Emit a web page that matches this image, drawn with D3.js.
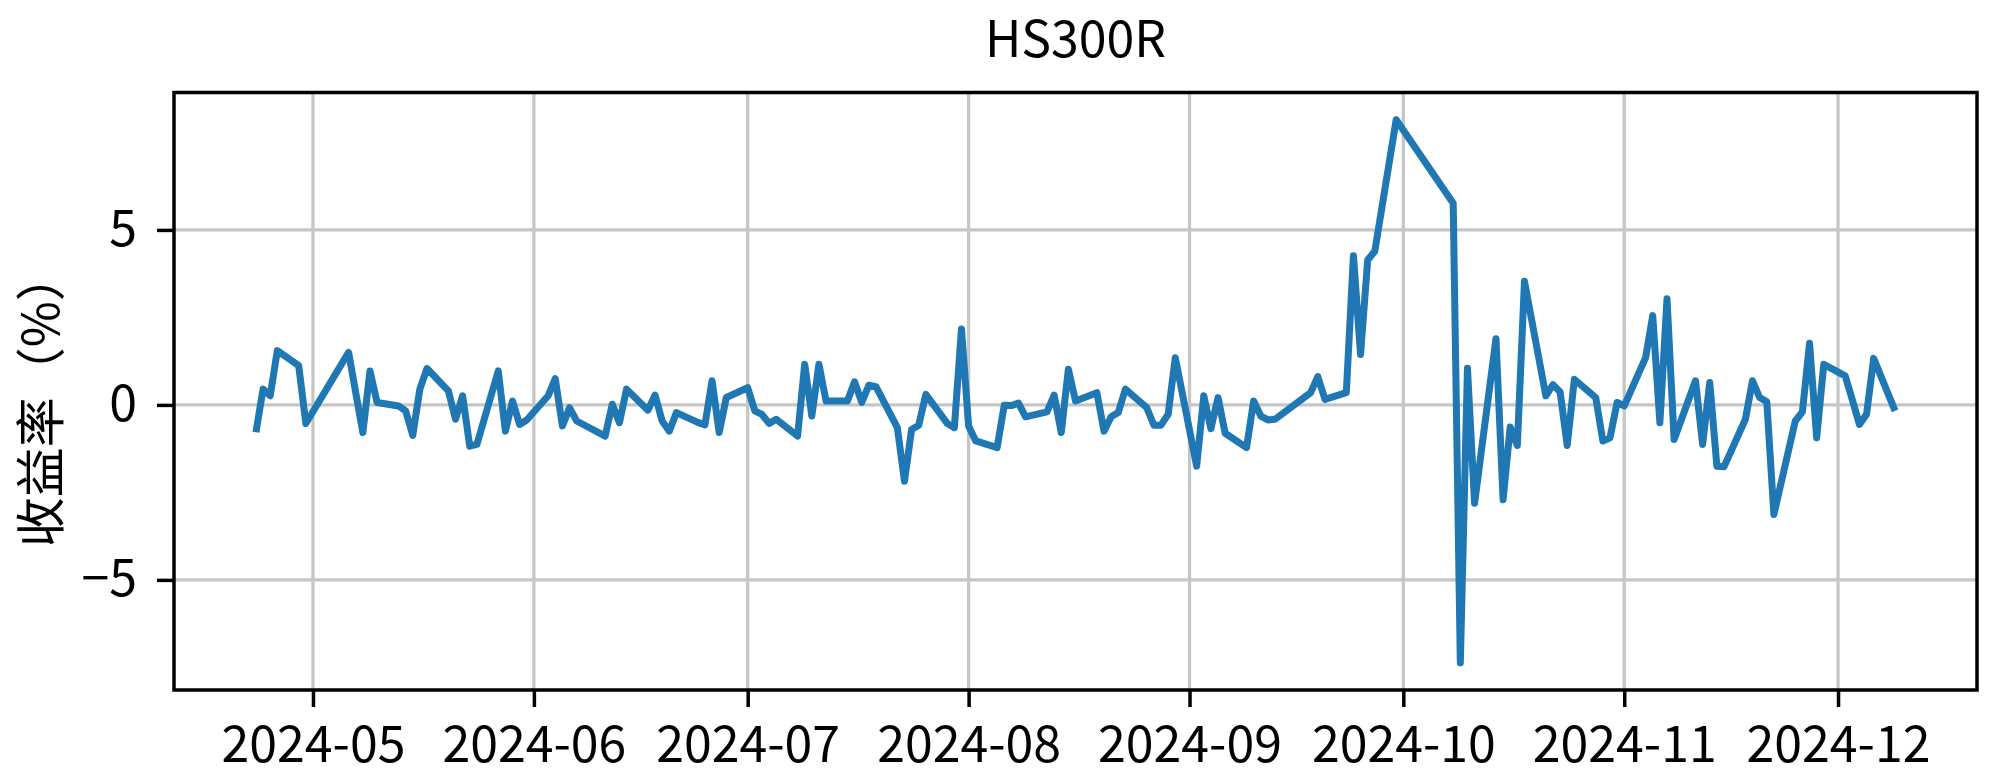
<!DOCTYPE html>
<html>
<head>
<meta charset="utf-8">
<script src="https://cdn.jsdelivr.net/npm/d3@7"></script>
<style>
  html, body { margin: 0; padding: 0; background: #ffffff; }
  svg { display: block; }
  text { font-family: "Noto Sans CJK SC", "DejaVu Sans", sans-serif; fill: #000; }
</style>
</head>
<body>
<svg id="chart" width="2000" height="775"></svg>
<script>
// ---- data ----
const title = "HS300R";
const yLabel = "收益率（%）";
const dates = [
  "2024-04-23","2024-04-24","2024-04-25","2024-04-26","2024-04-29","2024-04-30",
  "2024-05-06","2024-05-07","2024-05-08","2024-05-09","2024-05-10",
  "2024-05-13","2024-05-14","2024-05-15","2024-05-16","2024-05-17",
  "2024-05-20","2024-05-21","2024-05-22","2024-05-23","2024-05-24",
  "2024-05-27","2024-05-28","2024-05-29","2024-05-30","2024-05-31",
  "2024-06-03","2024-06-04","2024-06-05","2024-06-06","2024-06-07",
  "2024-06-11","2024-06-12","2024-06-13","2024-06-14",
  "2024-06-17","2024-06-18","2024-06-19","2024-06-20","2024-06-21",
  "2024-06-24","2024-06-25","2024-06-26","2024-06-27","2024-06-28",
  "2024-07-01","2024-07-02","2024-07-03","2024-07-04","2024-07-05",
  "2024-07-08","2024-07-09","2024-07-10","2024-07-11","2024-07-12",
  "2024-07-15","2024-07-16","2024-07-17","2024-07-18","2024-07-19",
  "2024-07-22","2024-07-23","2024-07-24","2024-07-25","2024-07-26",
  "2024-07-29","2024-07-30","2024-07-31","2024-08-01","2024-08-02",
  "2024-08-05","2024-08-06","2024-08-07","2024-08-08","2024-08-09",
  "2024-08-12","2024-08-13","2024-08-14","2024-08-15","2024-08-16",
  "2024-08-19","2024-08-20","2024-08-21","2024-08-22","2024-08-23",
  "2024-08-26","2024-08-27","2024-08-28","2024-08-29","2024-08-30",
  "2024-09-02","2024-09-03","2024-09-04","2024-09-05","2024-09-06",
  "2024-09-09","2024-09-10","2024-09-11","2024-09-12","2024-09-13",
  "2024-09-18","2024-09-19","2024-09-20",
  "2024-09-23","2024-09-24","2024-09-25","2024-09-26","2024-09-27",
  "2024-09-30",
  "2024-10-08","2024-10-09","2024-10-10","2024-10-11",
  "2024-10-14","2024-10-15","2024-10-16","2024-10-17","2024-10-18",
  "2024-10-21","2024-10-22","2024-10-23","2024-10-24","2024-10-25",
  "2024-10-28","2024-10-29","2024-10-30","2024-10-31","2024-11-01",
  "2024-11-04","2024-11-05","2024-11-06","2024-11-07","2024-11-08",
  "2024-11-11","2024-11-12","2024-11-13","2024-11-14","2024-11-15",
  "2024-11-18","2024-11-19","2024-11-20","2024-11-21","2024-11-22",
  "2024-11-25","2024-11-26","2024-11-27","2024-11-28","2024-11-29",
  "2024-12-02","2024-12-03","2024-12-04","2024-12-05","2024-12-06",
  "2024-12-09"
];
const returns = [
  -0.78, 0.45, 0.26, 1.55, 1.12, -0.53,
  1.50, 0.35, -0.79, 0.97, 0.07,
  -0.03, -0.17, -0.87, 0.45, 1.04,
  0.40, -0.41, 0.26, -1.18, -1.13,
  0.97, -0.75, 0.11, -0.56, -0.43,
  0.26, 0.75, -0.60, -0.08, -0.46,
  -0.89, 0.02, -0.51, 0.45,
  -0.15, 0.28, -0.46, -0.75, -0.22,
  -0.50, -0.57, 0.69, -0.79, 0.21,
  0.49, -0.17, -0.27, -0.53, -0.41,
  -0.89, 1.16, -0.32, 1.16, 0.11,
  0.11, 0.66, 0.07, 0.56, 0.52,
  -0.65, -2.18, -0.70, -0.58, 0.30,
  -0.53, -0.65, 2.17, -0.60, -1.03,
  -1.22, -0.01, -0.02, 0.05, -0.34,
  -0.20, 0.28, -0.79, 1.02, 0.11,
  0.35, -0.75, -0.34, -0.22, 0.45,
  -0.08, -0.58, -0.58, -0.27, 1.35,
  -1.75, 0.26, -0.68, 0.21, -0.81,
  -1.22, 0.11, -0.32, -0.43, -0.41,
  0.35, 0.81, 0.16,
  0.35, 4.26, 1.44, 4.14, 4.39,
  8.15,
  5.76, -7.37, 1.05, -2.81,
  1.89, -2.71, -0.63, -1.16, 3.53,
  0.26, 0.58, 0.37, -1.16, 0.73,
  0.21, -1.03, -0.94, 0.07, -0.03,
  1.35, 2.55, -0.51, 3.03, -0.99,
  0.69, -1.13, 0.64, -1.75, -1.77,
  -0.41, 0.69, 0.21, 0.09, -3.13,
  -0.46, -0.20, 1.76, -0.94, 1.16,
  0.83, 0.15, -0.56, -0.27, 1.33,
  -0.17
];
const yTicks = [-5, 0, 5];
const xTickLabels = ["2024-05","2024-06","2024-07","2024-08","2024-09","2024-10","2024-11","2024-12"];

// ---- layout ----
const W = 2000, H = 775;
const plot = { left: 174, right: 1977, top: 92.5, bottom: 690 };

const parse = d3.utcParse("%Y-%m-%d");
const data = dates.map((d, i) => ({ date: parse(d), value: returns[i] }));

const svg = d3.select("#chart");
svg.append("rect").attr("width", W).attr("height", H).attr("fill", "#fff");

// scales with matplotlib-like 5% margins
const xExt = d3.extent(data, d => d.date);
const xPad = (xExt[1] - xExt[0]) * 0.05;
const x = d3.scaleUtc()
  .domain([new Date(+xExt[0] - xPad), new Date(+xExt[1] + xPad)])
  .range([plot.left, plot.right]);

const yExt = d3.extent(data, d => d.value);
const yPad = (yExt[1] - yExt[0]) * 0.05;
const y = d3.scaleLinear()
  .domain([yExt[0] - yPad, yExt[1] + yPad])
  .range([plot.bottom, plot.top]);

const xTicks = xTickLabels.map(s => d3.utcParse("%Y-%m")(s));

// grid
const grid = svg.append("g");
grid.selectAll(".gx").data(xTicks).enter().append("line")
  .attr("x1", d => x(d)).attr("x2", d => x(d))
  .attr("y1", plot.top).attr("y2", plot.bottom)
  .attr("stroke", "#c6c6c6").attr("stroke-width", 3.3);
grid.selectAll(".gy").data(yTicks).enter().append("line")
  .attr("x1", plot.left).attr("x2", plot.right)
  .attr("y1", d => y(d)).attr("y2", d => y(d))
  .attr("stroke", "#c6c6c6").attr("stroke-width", 3.3);

// line
const clipId = "clip";
svg.append("clipPath").attr("id", clipId).append("rect")
  .attr("x", plot.left).attr("y", plot.top)
  .attr("width", plot.right - plot.left).attr("height", plot.bottom - plot.top);

svg.append("path")
  .datum(data)
  .attr("clip-path", `url(#${clipId})`)
  .attr("fill", "none")
  .attr("stroke", "#1f77b4")
  .attr("stroke-width", 7)
  .attr("stroke-linejoin", "round")
  .attr("stroke-linecap", "butt")
  .attr("d", d3.line().x(d => x(d.date)).y(d => y(d.value)));

// axes
const xAxis = d3.axisBottom(x)
  .tickValues(xTicks)
  .tickFormat((d, i) => xTickLabels[i])
  .tickSize(17).tickPadding(19);
const gx = svg.append("g").attr("transform", `translate(0,${plot.bottom})`).call(xAxis);
gx.select(".domain").remove();
gx.selectAll(".tick line").attr("stroke", "#000").attr("stroke-width", 3.5);
gx.selectAll(".tick text")
  .attr("font-size", 50)
  .attr("font-family", "'Noto Sans CJK SC', sans-serif")
  .attr("fill", "#000");

const yAxis = d3.axisLeft(y)
  .tickValues(yTicks)
  .tickFormat(d => d < 0 ? "\u2212" + Math.abs(d) : String(d))
  .tickSize(17).tickPadding(20);
const gy = svg.append("g").attr("transform", `translate(${plot.left},0)`).call(yAxis);
gy.select(".domain").remove();
gy.selectAll(".tick line").attr("stroke", "#000").attr("stroke-width", 3.5);
gy.selectAll(".tick text")
  .attr("font-size", 50)
  .attr("font-family", "'Noto Sans CJK SC', sans-serif")
  .attr("fill", "#000");

// frame
svg.append("rect")
  .attr("x", plot.left).attr("y", plot.top)
  .attr("width", plot.right - plot.left).attr("height", plot.bottom - plot.top)
  .attr("fill", "none").attr("stroke", "#000").attr("stroke-width", 3.5);

// title
svg.append("text")
  .attr("x", (plot.left + plot.right) / 2).attr("y", 57)
  .attr("text-anchor", "middle")
  .attr("font-size", 50)
  .text(title);

// y label
svg.append("text")
  .attr("transform", `translate(37,${(plot.top + plot.bottom) / 2 + 8}) rotate(-90)`)
  .attr("text-anchor", "middle")
  .attr("dominant-baseline", "central")
  .attr("font-size", 50)
  .text(yLabel);
</script>
</body>
</html>
